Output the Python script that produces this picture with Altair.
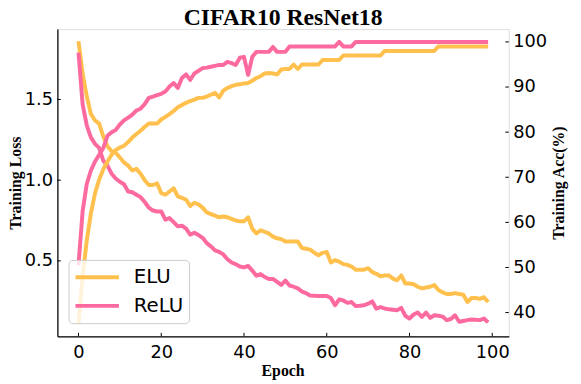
import altair as alt
import pandas as pd

epochs = list(range(100))

elu_loss = [1.86, 1.66, 1.52, 1.41, 1.37, 1.35, 1.27, 1.21, 1.18, 1.17,
            1.14, 1.11, 1.09, 1.06, 1.07, 1.04, 1.00, 0.97, 0.97, 0.98,
            0.92, 0.91, 0.93, 0.95, 0.90, 0.89, 0.88, 0.84, 0.86, 0.85,
            0.83, 0.80, 0.79, 0.78, 0.77, 0.775, 0.77, 0.76, 0.75, 0.745,
            0.745, 0.77, 0.70, 0.67, 0.69, 0.68, 0.67, 0.65, 0.64, 0.635,
            0.62, 0.62, 0.62, 0.62, 0.58, 0.575, 0.57, 0.55, 0.535, 0.55,
            0.555, 0.49, 0.505, 0.495, 0.48, 0.475, 0.465, 0.445, 0.445, 0.445,
            0.455, 0.43, 0.42, 0.405, 0.41, 0.41, 0.39, 0.38, 0.41, 0.36,
            0.36, 0.355, 0.34, 0.33, 0.335, 0.34, 0.35, 0.32, 0.305, 0.295,
            0.295, 0.30, 0.295, 0.29, 0.245, 0.27, 0.27, 0.265, 0.275, 0.245]

relu_loss = [1.79, 1.47, 1.34, 1.265, 1.225, 1.20, 1.12, 1.09, 1.04, 1.01,
             0.99, 0.975, 0.93, 0.925, 0.91, 0.895, 0.865, 0.83, 0.812, 0.806,
             0.806, 0.755, 0.765, 0.74, 0.714, 0.718, 0.70, 0.663, 0.674, 0.66,
             0.643, 0.61, 0.59, 0.565, 0.556, 0.54, 0.51, 0.49, 0.48, 0.465,
             0.46, 0.469, 0.44, 0.408, 0.419, 0.40, 0.388, 0.388, 0.37, 0.351,
             0.378, 0.347, 0.34, 0.33, 0.31, 0.30, 0.286, 0.284, 0.282, 0.282,
             0.282, 0.27, 0.225, 0.262, 0.255, 0.24, 0.245, 0.22, 0.222, 0.225,
             0.235, 0.249, 0.204, 0.214, 0.205, 0.2, 0.197, 0.194, 0.209, 0.16,
             0.143, 0.168, 0.18, 0.153, 0.18, 0.147, 0.163, 0.16, 0.155, 0.133,
             0.14, 0.163, 0.123, 0.128, 0.133, 0.137, 0.135, 0.133, 0.143, 0.119]

elu_acc = [37.6, 48, 56, 62, 66.5, 69.5, 71.8, 73.5, 75, 76,
           76.6, 77, 77.8, 78.8, 79.6, 80.3, 81.2, 81.9, 81.9, 81.9,
           82.8, 83.4, 84, 84.7, 85.5, 86, 86.5, 86.9, 87.2, 87.6,
           87.6, 87.9, 88.3, 88.7, 87.7, 89.2, 89.8, 90.2, 90.5, 90.6,
           90.8, 90.9, 91.4, 92, 92.4, 93, 93.1, 93, 92.8, 93.9,
           94, 94, 95, 94, 95, 95, 95, 95, 95, 96,
           96, 96, 96, 96, 97, 97, 97, 97, 97, 97,
           97, 97, 97, 97, 98, 98, 98, 98, 98, 98,
           98, 98, 98, 98, 98, 98, 98, 99, 99, 99,
           99, 99, 99, 99, 99, 99, 99, 99, 99, 99]

relu_acc = [50.5, 62.5, 68.5, 71.5, 73.5, 75, 76.5, 79.2, 80, 80.5,
            81.7, 82.6, 83.2, 83.9, 84.8, 85.2, 86.2, 87.6, 87.9, 88.2,
            88.5, 89, 90.1, 90.9, 89.8, 92, 92.8, 91.6, 93, 93.6,
            94.2, 94.3, 94.5, 94.7, 94.9, 94.9, 95.6, 95.3, 94.9, 96.5,
            96.7, 92.7, 96.7, 97.8, 97.8, 97.8, 97.8, 98.9, 97.8, 97.8,
            97.8, 99, 99, 99, 99, 99, 99, 99, 99, 99,
            99, 99, 99, 100, 99, 99, 99, 100, 100, 100,
            100, 100, 100, 100, 100, 100, 100, 100, 100, 100,
            100, 100, 100, 100, 100, 100, 100, 100, 100, 100,
            100, 100, 100, 100, 100, 100, 100, 100, 100, 100]

models = ["ELU", "ReLU"]
colors = ["#FFC04D", "#FC6A9F"]
x_ticks = [0, 20, 40, 60, 80, 100]
loss_ticks = [0.5, 1.0, 1.5]
acc_ticks = [40, 50, 60, 70, 80, 90, 100]

W, H = 457, 311

loss_df = pd.DataFrame({
    "epoch": epochs * 2,
    "model": ["ELU"] * 100 + ["ReLU"] * 100,
    "loss": elu_loss + relu_loss,
})
acc_df = pd.DataFrame({
    "epoch": epochs * 2,
    "model": ["ELU"] * 100 + ["ReLU"] * 100,
    "acc": elu_acc + relu_acc,
})

x_scale = alt.Scale(domain=[-5.1, 104], nice=False, zero=False)
loss_scale = alt.Scale(domain=[0.033, 1.936], nice=False, zero=False)
acc_scale = alt.Scale(domain=[34.75, 102.85], nice=False, zero=False)

x_axis = alt.Axis(values=x_ticks, title="Epoch", grid=False, tickSize=0,
                  labelFont="DejaVu Sans", labelFontSize=18, labelColor="black",
                  labelPadding=7.5, labelFlush=False,
                  domainColor="black", domainWidth=1.25,
                  titleFont="Liberation Serif", titleFontWeight="bold",
                  titleFontSize=16, titleColor="black",
                  titleX=W / 2 - 0.5, titleY=39.5, titleBaseline="alphabetic",
                  titleAlign="center")
loss_axis = alt.Axis(values=loss_ticks, format=".1f", title="Training Loss",
                     orient="left", grid=False, tickSize=0,
                     labelFont="DejaVu Sans", labelFontSize=18, labelColor="black",
                     labelPadding=5, labelFlush=False,
                     domainColor="black", domainWidth=1.25,
                     titleFont="Liberation Serif", titleFontWeight="bold",
                     titleFontSize=16, titleColor="black",
                     titleAngle=270, titleX=-42.5, titleY=H / 2,
                     titleBaseline="middle", titleAlign="center")
acc_axis = alt.Axis(values=acc_ticks, title="Training Acc(%)",
                    orient="right", grid=False, tickSize=0,
                    labelFont="DejaVu Sans", labelFontSize=18, labelColor="black",
                    labelPadding=4, labelFlush=False, domain=False,
                    titleFont="Liberation Serif", titleFontWeight="bold",
                    titleFontSize=16, titleColor="black",
                    titleAngle=270, titleX=50.8, titleY=H / 2,
                    titleBaseline="middle", titleAlign="center")

color = alt.Color("model:N",
                  scale=alt.Scale(domain=models, range=colors),
                  legend=alt.Legend(orient="none", legendX=11.3, legendY=233.7,
                                    title=None, symbolType="stroke",
                                    symbolSize=1936, symbolStrokeWidth=4,
                                    clipHeight=25, rowPadding=4, labelOffset=13,
                                    labelFont="DejaVu Sans", labelFontSize=20,
                                    labelColor="black", padding=5,
                                    fillColor="rgba(255,255,255,0.8)",
                                    strokeColor="#cccccc", cornerRadius=4))

loss_lines = alt.Chart(loss_df).mark_line(strokeWidth=4, strokeJoin="round").encode(
    x=alt.X("epoch:Q", scale=x_scale, axis=x_axis),
    y=alt.Y("loss:Q", scale=loss_scale, axis=loss_axis),
    color=color,
)

xt_df = pd.DataFrame({"epoch": x_ticks})
x_tick_marks = alt.Chart(xt_df).mark_rule(color="black", strokeWidth=1).encode(
    x=alt.X("epoch:Q", scale=x_scale, axis=x_axis),
    y=alt.value(H), y2=alt.value(H - 3.5),
)
lt_df = pd.DataFrame({"loss": loss_ticks})
l_tick_marks = alt.Chart(lt_df).mark_rule(color="black", strokeWidth=1).encode(
    y=alt.Y("loss:Q", scale=loss_scale, axis=loss_axis),
    x=alt.value(0), x2=alt.value(3.5),
)

acc_lines = alt.Chart(acc_df).mark_line(strokeWidth=4, strokeJoin="round").encode(
    x=alt.X("epoch:Q", scale=x_scale, axis=x_axis),
    y=alt.Y("acc:Q", scale=acc_scale, axis=acc_axis),
    color=color,
)
at_df = pd.DataFrame({"acc": acc_ticks})
a_tick_marks = alt.Chart(at_df).mark_rule(color="black", strokeWidth=1).encode(
    y=alt.Y("acc:Q", scale=acc_scale, axis=acc_axis),
    x=alt.value(W - 3.5), x2=alt.value(W),
)

loss_group = alt.layer(loss_lines, x_tick_marks, l_tick_marks)
acc_group = alt.layer(acc_lines, a_tick_marks)

chart = alt.layer(loss_group, acc_group).resolve_scale(y="independent").properties(
    width=W, height=H,
    title=alt.TitleParams("CIFAR10 ResNet18", font="Liberation Serif",
                          fontSize=24, fontWeight="bold", color="black",
                          anchor="middle", frame="group", offset=-0.5),
    autosize=alt.AutoSizeParams(type="none"),
    padding={"left": 50, "top": 19, "right": 65, "bottom": 48},
).configure_view(stroke="#808080", strokeWidth=1.25).configure(background="white")

chart.save("out.html", embed_options={"renderer": "svg", "actions": False})
